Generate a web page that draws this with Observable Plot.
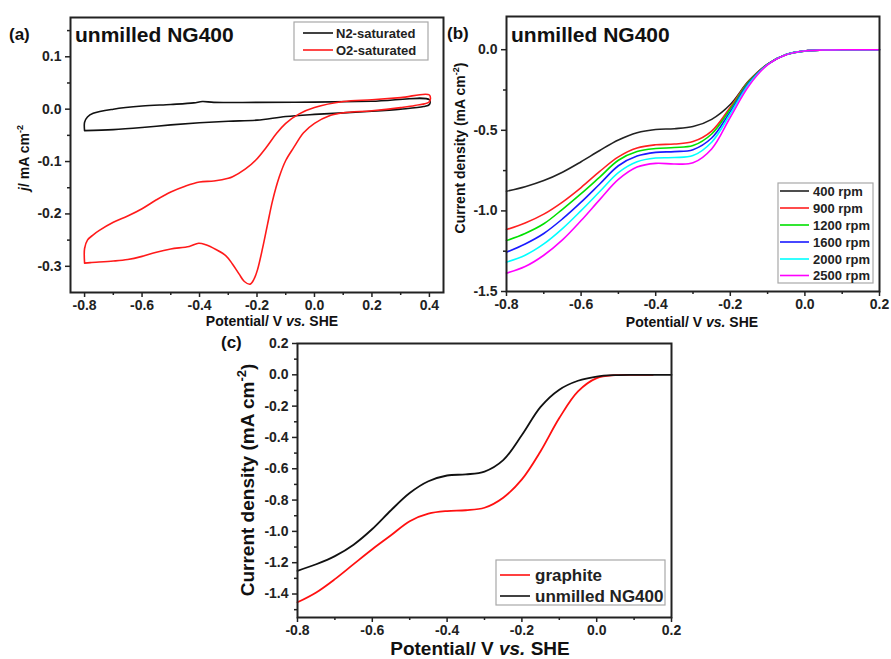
<!DOCTYPE html>
<html>
<head>
<meta charset="utf-8">
<script src="https://cdn.jsdelivr.net/npm/d3@7"></script>
<script src="https://cdn.jsdelivr.net/npm/@observablehq/plot@0.6"></script>
<style>
  body { margin: 0; background: #fff; }
  #root { position: relative; width: 891px; height: 659px; background: #fff; overflow: hidden; }
  .panel { position: absolute; }
  .panel svg text { font-weight: bold; font-size: 14px; fill: #222; }
  #overlay { position: absolute; left: 0; top: 0; pointer-events: none; }
</style>
</head>
<body>
<div id="root"></div>
<script>
// ---------------- DATA ----------------
// (a) cyclic voltammograms (closed loops, in scan order)
const cvN2V = [-0.8,-0.8,-0.79,-0.77,-0.7,-0.6,-0.5,-0.42,-0.39,-0.35,-0.2,0.0,0.2,0.4,0.4,0.38,0.3,0.2,0.1,0.0,-0.1,-0.2,-0.3,-0.4,-0.5,-0.6,-0.7,-0.8];
const cvN2J = [-0.041,-0.025,-0.015,-0.008,0.0,0.006,0.009,0.012,0.0145,0.013,0.013,0.0135,0.015,0.018,0.009,0.005,0.0,-0.004,-0.007,-0.01,-0.014,-0.021,-0.023,-0.026,-0.03,-0.035,-0.039,-0.041];
const cvO2V = [-0.8,-0.8,-0.79,-0.77,-0.75,-0.7,-0.65,-0.6,-0.55,-0.5,-0.45,-0.4,-0.35,-0.3,-0.285,-0.24,-0.204,-0.168,-0.133,-0.1,-0.053,0.0,0.1,0.2,0.3,0.4,0.4,0.35,0.3,0.2,0.1,0.05,0.0,-0.038,-0.072,-0.1,-0.123,-0.146,-0.163,-0.18,-0.198,-0.21,-0.224,-0.244,-0.262,-0.285,-0.308,-0.343,-0.378,-0.403,-0.436,-0.5,-0.55,-0.6,-0.65,-0.7,-0.78,-0.8];
const cvO2J = [-0.294,-0.266,-0.25,-0.24,-0.232,-0.216,-0.204,-0.19,-0.173,-0.158,-0.147,-0.139,-0.137,-0.132,-0.129,-0.114,-0.097,-0.073,-0.047,-0.027,-0.009,0.003,0.0145,0.018,0.022,0.027,0.014,0.007,0.003,-0.003,-0.007,-0.013,-0.027,-0.045,-0.073,-0.098,-0.13,-0.175,-0.219,-0.264,-0.306,-0.324,-0.334,-0.329,-0.315,-0.296,-0.28,-0.268,-0.259,-0.256,-0.262,-0.267,-0.273,-0.281,-0.287,-0.29,-0.293,-0.294];
const cvSeries = ["N2-saturated", "O2-saturated"];

// (b) LSV at different rotation rates
const lsvV = [-0.8,-0.75,-0.7,-0.65,-0.6,-0.55,-0.5,-0.45,-0.4,-0.35,-0.3,-0.25,-0.2,-0.15,-0.1,-0.05,0.0,0.05,0.1,0.15,0.2];
const rpmLabels = ["400 rpm","900 rpm","1200 rpm","1600 rpm","2000 rpm","2500 rpm"];
const j400  = [-0.878,-0.85,-0.812,-0.76,-0.695,-0.625,-0.56,-0.515,-0.495,-0.49,-0.477,-0.432,-0.34,-0.192,-0.089,-0.03,-0.008,-0.002,0,0,0];
const j900  = [-1.116,-1.075,-1.02,-0.945,-0.855,-0.755,-0.665,-0.61,-0.59,-0.585,-0.57,-0.505,-0.357,-0.195,-0.09,-0.03,-0.008,-0.002,0,0,0];
const j1200 = [-1.184,-1.14,-1.08,-0.99,-0.893,-0.79,-0.686,-0.632,-0.613,-0.607,-0.595,-0.523,-0.368,-0.198,-0.09,-0.03,-0.008,-0.002,0,0,0];
const j1600 = [-1.256,-1.205,-1.14,-1.05,-0.946,-0.833,-0.72,-0.66,-0.637,-0.632,-0.62,-0.548,-0.384,-0.205,-0.091,-0.03,-0.008,-0.002,0,0,0];
const j2000 = [-1.318,-1.275,-1.205,-1.11,-0.998,-0.88,-0.762,-0.695,-0.672,-0.669,-0.657,-0.574,-0.399,-0.213,-0.092,-0.03,-0.008,-0.002,0,0,0];
const j2500 = [-1.386,-1.345,-1.275,-1.18,-1.06,-0.93,-0.805,-0.728,-0.705,-0.709,-0.702,-0.616,-0.419,-0.223,-0.094,-0.031,-0.008,-0.002,0,0,0];

// (c) comparison
const cmpV = [-0.8,-0.75,-0.7,-0.65,-0.6,-0.55,-0.5,-0.45,-0.4,-0.35,-0.3,-0.25,-0.2,-0.15,-0.1,-0.05,0.0,0.05,0.1,0.15,0.2];
const cmpSeries = ["graphite", "unmilled NG400"];
const jGraphite = [-1.453,-1.39,-1.305,-1.209,-1.114,-1.025,-0.935,-0.887,-0.87,-0.865,-0.849,-0.785,-0.668,-0.488,-0.276,-0.106,-0.021,-0.002,0,0,null];
const jNG400    = [-1.252,-1.21,-1.158,-1.085,-0.985,-0.865,-0.755,-0.68,-0.643,-0.636,-0.618,-0.545,-0.385,-0.205,-0.095,-0.038,-0.011,-0.002,0,0,0];

// tick values
const ticksAX = [-0.8,-0.6,-0.4,-0.2,0.0,0.2,0.4];
const minorAX = [-0.7,-0.5,-0.3,-0.1,0.1,0.3];
const ticksAY = [0.1,0.0,-0.1,-0.2,-0.3];
const minorAY = [0.15,0.05,-0.05,-0.15,-0.25];
const ticksBX = [-0.8,-0.6,-0.4,-0.2,0.0,0.2];
const minorBX = [-0.7,-0.5,-0.3,-0.1,0.1];
const ticksBY = [0.0,-0.5,-1.0,-1.5];
const minorBY = [-0.25,-0.75,-1.25];
const ticksCX = [-0.8,-0.6,-0.4,-0.2,0.0,0.2];
const minorCX = [-0.7,-0.5,-0.3,-0.1,0.1];
const ticksCY = [0.2,0.0,-0.2,-0.4,-0.6,-0.8,-1.0,-1.2,-1.4];
const minorCY = [0.1,-0.1,-0.3,-0.5,-0.7,-0.9,-1.1,-1.3,-1.5];

// ---------------- STYLE ----------------
const FONT = "'Liberation Sans', Arial, Helvetica, sans-serif";
const cvColors = ["#111111", "#ff1a1a"];
const rpmColors = ["#222222", "#ff2020", "#00e000", "#1a1aff", "#00ffff", "#ff00ff"];
const cmpColors = ["#ff1010", "#111111"];
const fmt1 = d => (Math.abs(d) < 1e-9 ? "0.0" : d.toFixed(1));

// ---------------- TABLES ----------------
const cvRows = [];
cvN2V.forEach((v, i) => cvRows.push({series: cvSeries[0], v, j: cvN2J[i]}));
cvO2V.forEach((v, i) => cvRows.push({series: cvSeries[1], v, j: cvO2J[i]}));
const rpmSets = [j400, j900, j1200, j1600, j2000, j2500];
const lsvRows = [];
rpmSets.forEach((arr, k) => arr.forEach((j, i) => lsvRows.push({series: rpmLabels[k], v: lsvV[i], j})));
const cmpRows = [];
[jGraphite, jNG400].forEach((arr, k) => arr.forEach((j, i) => { if (j !== null) cmpRows.push({series: cmpSeries[k], v: cmpV[i], j}); }));

function axes(tx, mx, ty, my) {
  const common = {tickSize: 5, tickPadding: 3, stroke: "#222", strokeWidth: 1.5};
  return [
    Plot.axisX({...common, ticks: tx, tickFormat: fmt1, label: null, fontWeight: "bold"}),
    Plot.axisX({...common, ticks: mx, tickSize: 3, tickFormat: () => "", label: null}),
    Plot.axisY({...common, ticks: ty, tickFormat: fmt1, label: null, tickPadding: 4, fontWeight: "bold"}),
    Plot.axisY({...common, ticks: my, tickSize: 3, tickFormat: () => "", label: null}),
    Plot.frame({stroke: "#222", strokeWidth: 2})
  ];
}

const root = document.getElementById("root");
function place(svg, left, top) {
  const d = document.createElement("div");
  d.className = "panel";
  d.style.left = left + "px";
  d.style.top = top + "px";
  d.appendChild(svg);
  root.appendChild(d);
  svg.querySelectorAll("text").forEach(t => {
    t.style.fontWeight = "700";
    t.style.fontFamily = FONT;
    t.style.fontSize = "14px";
  });
}
const baseStyle = {fontFamily: FONT, fontSize: "14px", fontWeight: "bold", background: "transparent", overflow: "visible", color: "#222"};

// (a)
const plotA = Plot.plot({
  width: 450, height: 330,
  marginLeft: 70, marginRight: 7, marginTop: 17, marginBottom: 38,
  style: baseStyle,
  x: {domain: [-0.849, 0.449]},
  y: {domain: [-0.35, 0.175]},
  color: {domain: cvSeries, range: cvColors},
  marks: [
    Plot.line(cvRows, {x: "v", y: "j", z: "series", stroke: "series", strokeWidth: 1.6, curve: "catmull-rom"}),
    ...axes(ticksAX, minorAX, ticksAY, minorAY)
  ]
});
place(plotA, 0, 0);

// (b)
const plotB = Plot.plot({
  width: 451, height: 330,
  marginLeft: 66, marginRight: 12, marginTop: 16, marginBottom: 39,
  style: baseStyle,
  x: {domain: [-0.8, 0.2]},
  y: {domain: [-1.5, 0.206]},
  color: {domain: rpmLabels, range: rpmColors},
  marks: [
    Plot.line(lsvRows, {x: "v", y: "j", z: "series", stroke: "series", strokeWidth: 1.6, curve: "catmull-rom"}),
    ...axes(ticksBX, minorBX, ticksBY, minorBY)
  ]
});
place(plotB, 440, 0);

// (c)
const plotC = Plot.plot({
  width: 480, height: 329,
  marginLeft: 97, marginRight: 9, marginTop: 13, marginBottom: 42,
  style: baseStyle,
  x: {domain: [-0.8, 0.2]},
  y: {domain: [-1.55, 0.2]},
  color: {domain: cmpSeries, range: cmpColors},
  marks: [
    Plot.line(cmpRows, {x: "v", y: "j", z: "series", stroke: "series", strokeWidth: 1.8, curve: "catmull-rom"}),
    ...axes(ticksCX, minorCX, ticksCY, minorCY)
  ]
});
place(plotC, 200, 330);

// ---------------- ANNOTATIONS (text + legends) ----------------
const NS = "http://www.w3.org/2000/svg";
const ov = document.createElementNS(NS, "svg");
ov.setAttribute("id", "overlay");
ov.setAttribute("width", 891);
ov.setAttribute("height", 659);
ov.style.fontFamily = FONT;
ov.style.fontWeight = "bold";
root.appendChild(ov);

function txt(x, y, html, size, opts = {}) {
  const t = document.createElementNS(NS, "text");
  t.setAttribute("x", x); t.setAttribute("y", y);
  t.setAttribute("font-size", size);
  t.setAttribute("fill", opts.fill || "#111");
  if (opts.anchor) t.setAttribute("text-anchor", opts.anchor);
  if (opts.rotate) t.setAttribute("transform", `rotate(-90 ${x} ${y})`);
  t.innerHTML = html;
  ov.appendChild(t);
  return t;
}
function legend(x, y, w, h, labels, colors, rowY, lineX0, lineX1, textX, size) {
  const r = document.createElementNS(NS, "rect");
  r.setAttribute("x", x); r.setAttribute("y", y); r.setAttribute("width", w); r.setAttribute("height", h);
  r.setAttribute("fill", "#fff"); r.setAttribute("stroke", "#a8a8a8"); r.setAttribute("stroke-width", 1.2);
  ov.appendChild(r);
  labels.forEach((lab, i) => {
    const yy = rowY[i];
    const l = document.createElementNS(NS, "line");
    l.setAttribute("x1", lineX0); l.setAttribute("x2", lineX1);
    l.setAttribute("y1", yy); l.setAttribute("y2", yy);
    l.setAttribute("stroke", colors[i]); l.setAttribute("stroke-width", 1.6);
    ov.appendChild(l);
    const t = txt(textX, yy, lab, size, {fill: "#222"});
    t.setAttribute("dominant-baseline", "central");
  });
}

const xLab = 'Potential/ V <tspan font-style="italic">vs.</tspan> SHE';
// (a)
txt(9, 40, "(a)", 17);
txt(75, 42, "unmilled NG400", 21);
txt(272, 326, xLab, 14, {anchor: "middle"});
txt(29, 158, '<tspan font-style="italic">j</tspan>/ mA cm<tspan dy="-6" font-size="9">-2</tspan>', 14, {anchor: "middle", rotate: true});
legend(294, 22, 134, 38, cvSeries, cvColors, [33, 50], 303, 333, 336, 13);
// (b)
txt(447, 39, "(b)", 17);
txt(511, 42, "unmilled NG400", 21);
txt(692, 327, xLab, 14, {anchor: "middle"});
txt(465, 148, 'Current density (mA cm<tspan dy="-6" font-size="9">-2</tspan><tspan dy="6">)</tspan>', 14, {anchor: "middle", rotate: true});
legend(778, 183, 95, 100, rpmLabels, rpmColors, [191, 208, 225, 242, 259, 275.5], 780, 809, 813, 13);
// (c)
txt(221, 348, "(c)", 17);
txt(480, 655, xLab, 19, {anchor: "middle"});
txt(254, 480, 'Current density (mA cm<tspan dy="-8" font-size="13">-2</tspan><tspan dy="8">)</tspan>', 19, {anchor: "middle", rotate: true});
legend(496, 560, 169, 45, cmpSeries, cmpColors, [575, 596], 500, 530, 535, 17);
</script>
</body>
</html>
